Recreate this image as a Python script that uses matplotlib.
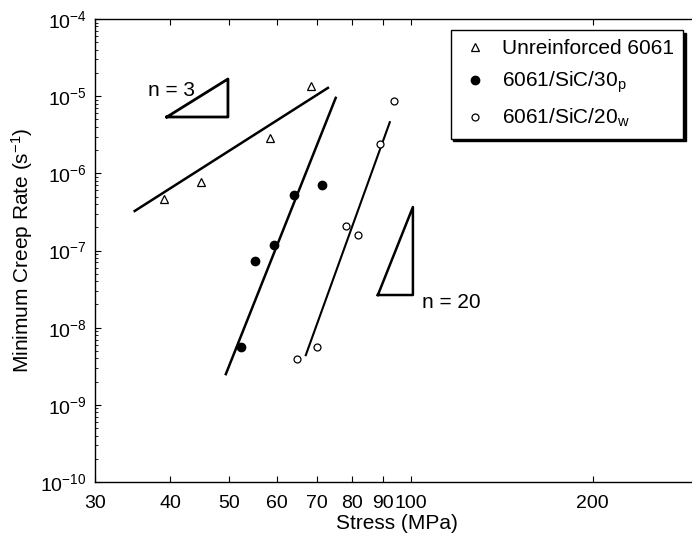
import matplotlib
matplotlib.use('Agg')
import matplotlib.pyplot as plt
import numpy as np

plt.rcParams['font.family'] = ['Liberation Sans', 'DejaVu Sans']
plt.rcParams['mathtext.default'] = 'regular'

# Measured data (stress in MPa, minimum creep rate in 1/s)
unr_stress = [39.0, 44.9, 58.4, 68.3]
unr_rate = [4.65e-7, 7.7e-7, 2.87e-6, 1.35e-5]

p30_stress = [52.3, 55.2, 59.3, 64.0, 71.2]
p30_rate = [5.6e-9, 7.3e-8, 1.18e-7, 5.24e-7, 7.06e-7]

w20_stress = [64.7, 69.9, 78.0, 81.7, 88.9, 93.7]
w20_rate = [3.9e-9, 5.6e-9, 2.08e-7, 1.59e-7, 2.4e-6, 8.65e-6]

# Fit lines (end points)
unr_fit_x = [34.9, 72.9]
unr_fit_y = [3.25e-7, 1.28e-5]
p30_fit_x = [49.4, 75.1]
p30_fit_y = [2.5e-9, 9.5e-6]
w20_fit_x = [67.0, 92.3]
w20_fit_y = [4.4e-9, 4.6e-6]

# Slope triangles
tri3_x = [39.45, 49.8, 49.8, 39.45]
tri3_y = [5.37e-6, 1.67e-5, 5.37e-6, 5.37e-6]
tri20_x = [88.2, 100.8, 100.8, 88.2]
tri20_y = [2.65e-8, 3.66e-7, 2.65e-8, 2.65e-8]

xticks = [30, 40, 50, 60, 70, 80, 90, 100, 200]

fig = plt.figure(figsize=(6.92, 5.39), dpi=100)
ax = fig.add_axes([95 / 692, 57 / 539, 604 / 692, 463 / 539])

ax.plot(unr_fit_x, unr_fit_y, color='black', lw=1.8)
ax.plot(p30_fit_x, p30_fit_y, color='black', lw=1.8)
ax.plot(w20_fit_x, w20_fit_y, color='black', lw=1.5)

ax.plot(unr_stress, unr_rate, ls='none', marker='^', ms=5.5, mfc='white',
        mec='black', mew=0.9, label='Unreinforced 6061')
ax.plot(p30_stress, p30_rate, ls='none', marker='o', ms=6, mfc='black',
        mec='black', label='6061/SiC/30$_{p}$')
ax.plot(w20_stress, w20_rate, ls='none', marker='o', ms=5, mfc='white',
        mec='black', mew=0.9, label='6061/SiC/20$_{w}$')

ax.plot(tri3_x, tri3_y, color='black', lw=2.0)
ax.plot(tri20_x, tri20_y, color='black', lw=1.8)
ax.text(36.7, 1.2e-5, 'n = 3', fontsize=15, va='center', ha='left')
ax.text(104.3, 2.15e-8, 'n = 20', fontsize=15, va='center', ha='left')

ax.set_xscale('log')
ax.set_yscale('log')
ax.set_xlim(30, 300)
ax.set_ylim(1e-10, 1e-4)
ax.set_xticks(xticks)
ax.set_xticklabels([str(t) for t in xticks])
ax.xaxis.set_minor_locator(matplotlib.ticker.NullLocator())
ax.set_yticks([10.0 ** k for k in range(-10, -3)])
ax.yaxis.set_minor_locator(matplotlib.ticker.LogLocator(base=10, subs=np.arange(2, 10), numticks=20))
ax.yaxis.set_minor_formatter(matplotlib.ticker.NullFormatter())

ax.tick_params(which='both', direction='in', top=True, right=True, labelsize=14)
ax.tick_params(which='major', length=4, width=0.8)
ax.tick_params(which='minor', length=2, width=0.6)
ax.tick_params(axis='x', pad=9)
ax.tick_params(axis='y', pad=6)
for s in ax.spines.values():
    s.set_linewidth(1.0)

ax.set_xlabel('Stress (MPa)', fontsize=15, labelpad=2)
ax.set_ylabel('Minimum Creep Rate (s$^{-1}$)', fontsize=15, labelpad=4)

leg = ax.legend(loc='upper right', bbox_to_anchor=(0.9735, 0.976), borderaxespad=0,
                fontsize=15, fancybox=False, edgecolor='black', framealpha=1,
                handlelength=1.4, handletextpad=0.6, labelspacing=0.55,
                borderpad=0.45, shadow={'color': 'black', 'alpha': 1})
leg.get_frame().set_linewidth(1.0)

fig.savefig('out.png', dpi=100)
